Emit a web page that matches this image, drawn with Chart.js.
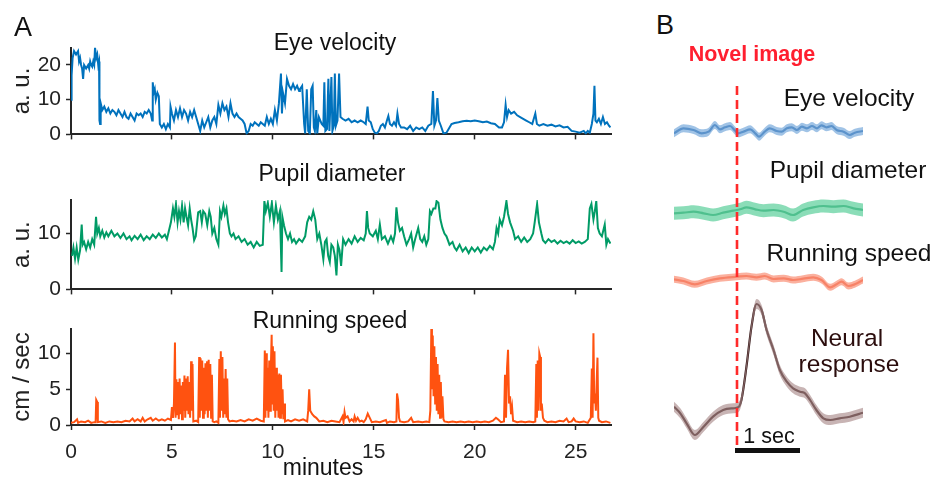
<!DOCTYPE html>
<html>
<head>
<meta charset="utf-8">
<script src="https://cdn.jsdelivr.net/npm/chart.js@4.4.1/dist/chart.umd.min.js"></script>
<style>
body { margin: 0; background: #fff; }
#fig { position: relative; width: 934px; height: 479px; overflow: hidden; font-family: "Liberation Sans", Arial, sans-serif; color: #111; }
canvas { position: absolute; }
.lbl { position: absolute; transform: translate(-50%, -50%); white-space: nowrap; line-height: 1; }
</style>
</head>
<body>
<div id="fig">
  <canvas id="eyeA" width="640" height="122" style="left:0;top:30px"></canvas>
  <canvas id="pupilA" width="640" height="127" style="left:0;top:180px"></canvas>
  <canvas id="runA" width="640" height="169" style="left:0;top:310px"></canvas>

  <canvas id="eyeB" width="294" height="30" style="left:640px;top:115px"></canvas>
  <canvas id="pupilB" width="294" height="35" style="left:640px;top:195px"></canvas>
  <canvas id="runB" width="294" height="35" style="left:640px;top:265px"></canvas>
  <canvas id="neuB" width="294" height="170" style="left:640px;top:290px"></canvas>
  <canvas id="onsetB" width="294" height="375" style="left:640px;top:80px"></canvas>

  <div class="lbl" style="left:23px;top:27px;font-size:27px">A</div>
  <div class="lbl" style="left:665px;top:25px;font-size:27px">B</div>
  <div class="lbl" style="left:335px;top:42px;font-size:23px">Eye velocity</div>
  <div class="lbl" style="left:332px;top:173px;font-size:23px">Pupil diameter</div>
  <div class="lbl" style="left:330px;top:320px;font-size:23px">Running speed</div>
  <div class="lbl" style="left:323px;top:467px;font-size:23px">minutes</div>

  <div class="lbl" style="left:752px;top:55px;font-size:21.5px;font-weight:bold;color:#ff1f2f">Novel image</div>
  <div class="lbl" style="left:849px;top:98px;font-size:24.5px">Eye velocity</div>
  <div class="lbl" style="left:848px;top:170px;font-size:24.5px">Pupil diameter</div>
  <div class="lbl" style="left:849px;top:253px;font-size:24.5px">Running speed</div>
  <div class="lbl" style="left:847px;top:338px;font-size:24.5px;color:#2b0d0d">Neural</div>
  <div class="lbl" style="left:849px;top:364px;font-size:24.5px;color:#2b0d0d">response</div>
  <div class="lbl" style="left:769px;top:437px;font-size:21.5px">1 sec</div>
</div>

<script>
// panel A: [minutes, value]
const eyeTrace = [
  [0,10],[0.03,17],[0.08,22],[0.15,24],[0.25,23],[0.35,24],[0.4,21],[0.45,22],[0.5,20],[0.55,19],[0.6,16],[0.65,20],[0.75,19],[0.85,20],[0.9,19],[0.95,21],[1.0,20],[1.05,19.5],[1.1,21],[1.15,20],[1.19,25],[1.25,22],[1.3,23],[1.35,20],[1.39,21],[1.41,4],[1.44,3],[1.47,9],[1.55,7],[1.65,8],[1.75,6.5],[1.85,7.5],[1.95,6],[2.05,7],[2.15,6.5],[2.25,5.5],[2.35,7],[2.45,6],[2.55,5],[2.65,6.5],[2.75,5],[2.85,4.5],[2.95,6],[3.05,5],[3.15,4],[3.25,6],[3.35,5.5],[3.45,6],[3.55,5],[3.65,6.5],[3.75,6],[3.85,7],[3.95,6],[4.02,4],[4.05,15],[4.1,12],[4.15,13],[4.2,10],[4.28,12],[4.35,11],[4.4,3],[4.5,2],[4.6,3],[4.7,1.5],[4.8,3],[4.9,2],[4.93,8],[5.0,6],[5.1,4],[5.2,7],[5.3,5],[5.4,7.5],[5.5,5],[5.6,7],[5.7,6],[5.8,4],[5.9,6.5],[6.0,5],[6.1,7],[6.2,5],[6.3,3],[6.4,1],[6.5,4],[6.6,2],[6.7,3.5],[6.8,5],[6.9,2],[7.0,4],[7.1,5],[7.2,3],[7.3,8.5],[7.4,6],[7.5,9],[7.6,7],[7.7,8],[7.8,5],[7.9,9],[8.0,6],[8.1,5],[8.2,6],[8.3,5],[8.4,4.5],[8.5,4],[8.6,3],[8.7,0.3],[8.8,1],[8.9,3],[9.0,2.5],[9.1,3.5],[9.2,3],[9.3,2.5],[9.4,3.5],[9.5,3],[9.6,2.5],[9.7,5],[9.8,3],[9.9,4.5],[10.0,3],[10.1,7],[10.2,4],[10.3,9],[10.4,17.5],[10.45,6],[10.5,12],[10.6,9],[10.7,16],[10.8,14],[10.9,13],[11.0,14.5],[11.1,13],[11.2,14],[11.3,12.5],[11.34,13],[11.45,14],[11.55,3],[11.6,0.3],[11.68,13],[11.75,1],[11.83,0.3],[11.9,13],[11.97,14],[12.03,2],[12.08,1],[12.15,7],[12.2,0.3],[12.28,5],[12.35,4],[12.42,3],[12.5,2.5],[12.55,15],[12.6,1],[12.68,1.5],[12.75,16],[12.8,1],[12.9,16.5],[12.95,1],[13.02,2.5],[13.07,17.5],[13.12,2.5],[13.2,4],[13.28,17.5],[13.35,5],[13.45,4.5],[13.6,4],[13.75,4.5],[13.9,3.5],[14.05,4],[14.2,3.5],[14.35,4],[14.5,3.5],[14.6,3],[14.69,8],[14.75,4],[14.85,3.5],[14.95,1.5],[15.05,0.5],[15.15,0.3],[15.25,1],[15.35,2.5],[15.45,3],[15.55,2],[15.65,4],[15.72,5.3],[15.8,3],[15.9,2.5],[16.0,3.5],[16.1,2.5],[16.17,6],[16.25,3],[16.35,2],[16.5,2],[16.65,1.5],[16.8,2.5],[16.95,1],[17.1,2],[17.25,1.5],[17.4,2],[17.55,1],[17.7,2.5],[17.85,3],[17.93,12.5],[18.0,2.5],[18.08,4],[18.15,10.5],[18.22,4],[18.32,2.5],[18.45,0.3],[18.6,0.5],[18.7,1.5],[18.85,3],[19.0,3.3],[19.2,3.5],[19.4,3.8],[19.6,3.9],[19.8,3.8],[20.0,4],[20.2,3.8],[20.4,3.5],[20.6,3.7],[20.8,3.2],[21.0,3],[21.1,2.5],[21.2,2],[21.35,2],[21.45,3.5],[21.53,8.5],[21.6,5],[21.68,7],[21.8,6],[21.95,6.5],[22.1,5.5],[22.25,5],[22.4,4.5],[22.55,4],[22.7,3.5],[22.85,3],[23.0,6],[23.08,3],[23.2,2.5],[23.4,3],[23.6,2.5],[23.8,2.8],[24.0,2.3],[24.2,2.6],[24.4,2],[24.6,2.2],[24.8,1],[25.0,0.8],[25.2,0.5],[25.4,1],[25.5,0.3],[25.6,1],[25.7,0.5],[25.8,3],[25.88,6],[25.93,14],[25.98,4],[26.05,3.5],[26.15,4.5],[26.25,3],[26.35,5],[26.45,3],[26.55,3.5],[26.65,2.5],[26.72,2]
];

const pupilTrace = [
  [0.05,6],[0.12,7.5],[0.2,5.5],[0.28,7.5],[0.36,5.3],[0.45,7],[0.53,11.6],[0.58,8],[0.65,8.5],[0.75,7.2],[0.85,8.5],[0.95,7.5],[1.05,9],[1.15,8],[1.24,13],[1.3,10],[1.38,11],[1.45,9.5],[1.55,10.5],[1.65,9.3],[1.75,10.2],[1.85,9.5],[2.0,10.5],[2.15,9.5],[2.3,10],[2.45,9.2],[2.6,10],[2.75,9],[2.9,9.5],[3.0,8.8],[3.15,9.6],[3.3,9],[3.45,9.8],[3.6,8.8],[3.75,9.5],[3.9,9],[4.05,9.8],[4.2,9.2],[4.35,10],[4.5,9.3],[4.65,9.8],[4.75,9],[4.85,10.5],[4.95,12],[5.05,14.5],[5.12,13],[5.2,15.3],[5.28,12],[5.35,14],[5.42,12.5],[5.5,15],[5.58,12],[5.65,14.5],[5.72,13],[5.8,11.5],[5.88,14.5],[5.95,12.5],[6.02,11],[6.1,8.8],[6.18,9.5],[6.3,13.8],[6.4,14],[6.48,12],[6.55,14],[6.65,13.5],[6.75,11.5],[6.85,14],[6.92,13],[7.0,10],[7.1,11],[7.2,9],[7.3,8],[7.38,14],[7.45,13],[7.55,15],[7.62,13.5],[7.7,14.5],[7.78,12],[7.87,10],[7.95,9.5],[8.05,10],[8.15,9],[8.3,9.5],[8.45,8.5],[8.6,9],[8.75,8],[8.9,8.5],[9.05,7.5],[9.2,8.5],[9.35,7.8],[9.5,8],[9.58,15.8],[9.65,14],[9.75,15.5],[9.85,13],[9.95,15.5],[10.05,12],[10.15,15],[10.25,12.5],[10.35,14],[10.43,3.1],[10.47,13],[10.55,11.5],[10.65,10],[10.75,9],[10.85,10],[10.95,8.5],[11.05,9],[11.15,8.2],[11.3,9],[11.45,8.5],[11.6,9.5],[11.7,12],[11.8,13],[11.9,12.5],[12.0,14],[12.1,12.5],[12.2,9],[12.3,10],[12.4,8],[12.5,5.4],[12.58,8.5],[12.66,9],[12.74,6],[12.82,4.9],[12.9,8],[12.99,7.5],[13.07,6],[13.15,2.5],[13.22,8],[13.3,7],[13.38,4.2],[13.48,9],[13.6,8],[13.75,9],[13.9,8.2],[14.05,9.5],[14.2,8.5],[14.35,9.2],[14.5,8.8],[14.6,10],[14.66,14],[14.72,11],[14.8,10],[14.95,9.5],[15.1,10.5],[15.2,9],[15.3,11.6],[15.4,9],[15.55,9.5],[15.7,8.2],[15.85,9.5],[15.96,8.5],[16.05,10],[16.12,14.7],[16.2,12],[16.29,10.5],[16.4,11],[16.5,9.5],[16.62,8],[16.75,9],[16.85,10],[16.95,7.5],[17.05,9],[17.2,11],[17.3,9],[17.4,8.5],[17.5,9.5],[17.6,8],[17.7,9],[17.78,14],[17.85,13.5],[17.95,14.5],[18.05,14.5],[18.11,15.8],[18.2,15.5],[18.3,12.5],[18.4,11],[18.5,10],[18.6,9.5],[18.75,8],[18.9,8.5],[19.0,7.5],[19.1,7],[19.25,8],[19.4,6.8],[19.55,7.5],[19.7,6.5],[19.85,7.5],[20.0,6.8],[20.15,7.5],[20.3,6.6],[20.45,7.5],[20.6,7],[20.75,7.8],[20.9,7.2],[21.0,8.5],[21.08,11],[21.16,10],[21.24,12.5],[21.35,11.5],[21.45,13],[21.57,15.8],[21.65,13.5],[21.75,12],[21.9,10.5],[22.0,9],[22.15,9.5],[22.3,8.5],[22.45,9.3],[22.6,8.5],[22.75,9],[22.89,10],[22.97,12],[23.09,15.3],[23.18,12],[23.3,10],[23.38,8.8],[23.5,8.3],[23.65,9],[23.8,8.5],[23.95,8.8],[24.1,8.2],[24.25,8.7],[24.4,8.3],[24.55,8.6],[24.7,8.2],[24.85,8.8],[25.0,8.3],[25.15,8.6],[25.3,8.2],[25.45,8.5],[25.6,9],[25.7,14.5],[25.78,15.3],[25.88,12.5],[25.95,14],[26.02,15.8],[26.1,11],[26.19,10],[26.3,9.5],[26.44,11.6],[26.52,8],[26.6,9],[26.72,8.2]
];

const runTrace = [
  [0,0.3],[0.15,0.4],[0.3,0.8],[0.35,0.3],[0.5,0.5],[0.7,0.4],[0.85,0.6],[1.0,0.3],[1.15,0.4],[1.22,0.4],[1.25,3.5],[1.3,3.2],[1.33,0.4],[1.5,0.5],[1.7,0.3],[1.9,0.5],[2.1,0.4],[2.3,0.5],[2.5,0.4],[2.7,0.6],[2.9,0.5],[3.05,0.9],[3.15,0.5],[3.3,0.8],[3.45,0.5],[3.55,1],[3.65,0.5],[3.8,0.8],[3.95,1],[4.05,0.6],[4.2,0.9],[4.35,0.6],[4.5,0.8],[4.65,0.6],[4.8,0.9],[4.95,0.7],[5.0,2.5],[5.05,1],[5.1,3],[5.15,11.5],[5.18,1],[5.22,6.4],[5.26,1.5],[5.3,6],[5.34,0.8],[5.38,6.5],[5.42,1.5],[5.46,5.5],[5.5,0.8],[5.54,6],[5.58,2],[5.62,6.9],[5.66,1],[5.7,6.5],[5.74,2],[5.78,6.8],[5.82,1.5],[5.86,6],[5.9,1],[5.95,8.9],[5.98,2],[6.02,8.5],[6.06,0.5],[6.2,0.6],[6.3,0.4],[6.35,9.5],[6.38,1],[6.42,9.3],[6.46,2],[6.5,9],[6.54,1],[6.58,8],[6.62,1.5],[6.66,8.6],[6.7,2],[6.74,8.9],[6.78,1],[6.82,9.1],[6.86,2],[6.9,8.5],[6.94,1],[6.98,7],[7.02,0.5],[7.1,0.4],[7.2,0.5],[7.3,0.3],[7.35,9.2],[7.38,1],[7.42,10.3],[7.46,2],[7.5,9.5],[7.54,1],[7.58,6.5],[7.62,1.5],[7.66,7.8],[7.7,1],[7.74,6.5],[7.78,0.8],[7.85,0.5],[8.0,0.6],[8.2,0.5],[8.4,0.7],[8.6,0.5],[8.8,0.8],[9.0,0.6],[9.2,0.9],[9.4,0.6],[9.55,0.5],[9.6,10.4],[9.63,1],[9.67,10],[9.7,2],[9.74,8],[9.78,1],[9.82,9],[9.86,2],[9.9,8],[9.94,12.6],[9.97,3],[10.0,11],[10.04,2],[10.08,10.3],[10.12,1],[10.16,8],[10.2,2],[10.24,7],[10.28,1],[10.32,7.2],[10.36,1],[10.4,7],[10.44,1.5],[10.48,5],[10.52,0.8],[10.56,3],[10.6,0.5],[10.75,0.7],[10.9,0.5],[11.1,0.8],[11.3,0.6],[11.5,0.8],[11.7,0.5],[11.75,2],[11.8,5],[11.85,2],[11.95,1.5],[12.05,1.2],[12.15,1],[12.3,0.5],[12.5,0.6],[12.7,0.4],[12.9,0.6],[13.1,0.5],[13.3,0.4],[13.45,1.2],[13.5,0.4],[13.55,1.8],[13.6,1],[13.7,1.2],[13.8,0.5],[13.9,0.8],[14.0,0.5],[14.05,1.2],[14.12,0.6],[14.2,1],[14.3,0.5],[14.4,0.6],[14.5,0.4],[14.6,0.8],[14.7,1.6],[14.8,1],[14.9,0.4],[15.1,0.5],[15.3,0.4],[15.5,0.6],[15.6,0.7],[15.65,0.3],[15.8,0.5],[16.0,0.4],[16.12,0.5],[16.15,4.4],[16.2,3.5],[16.25,1],[16.3,0.5],[16.5,0.4],[16.7,0.5],[16.85,1],[16.95,0.4],[17.2,0.5],[17.4,0.4],[17.6,0.5],[17.75,0.4],[17.8,2],[17.85,13.5],[17.88,5],[17.92,12.5],[17.96,4],[18.0,11],[18.04,3],[18.08,9.5],[18.12,2],[18.16,8.5],[18.2,1.5],[18.24,7],[18.28,1],[18.32,6],[18.36,1],[18.4,4],[18.45,0.8],[18.5,0.5],[18.7,0.4],[18.9,0.5],[19.1,0.4],[19.3,0.5],[19.5,0.4],[19.7,0.5],[19.9,0.4],[20.1,0.5],[20.3,0.4],[20.5,0.5],[20.7,0.4],[20.9,0.6],[21.05,1],[21.15,0.8],[21.3,0.4],[21.45,0.5],[21.5,7],[21.55,1],[21.6,8],[21.65,10.5],[21.7,3],[21.75,4],[21.8,1.5],[21.85,2.5],[21.9,0.6],[22.1,0.4],[22.3,0.5],[22.5,0.4],[22.7,0.5],[22.9,0.4],[23.0,0.5],[23.05,8.5],[23.08,1],[23.12,9],[23.16,2],[23.2,10],[23.24,9.5],[23.28,2],[23.32,3],[23.38,1],[23.45,0.6],[23.6,0.4],[23.8,0.5],[24.0,0.4],[24.2,0.6],[24.4,0.5],[24.55,0.9],[24.65,0.4],[24.8,0.5],[24.9,0.9],[25.0,0.5],[25.2,0.4],[25.4,0.5],[25.6,0.3],[25.75,1],[25.8,7.9],[25.84,1],[25.88,12.8],[25.92,3],[25.96,4.4],[26.0,2],[26.04,6],[26.08,9.4],[26.12,1],[26.16,0.6],[26.3,0.4],[26.5,0.5],[26.72,0.3]
];

// panel B: [seconds from image onset, mean] (a.u.), plus band half width
const eyeB = [[-1.0,6.7],[-0.85,11.7],[-0.69,10],[-0.56,6.7],[-0.45,8.3],[-0.35,15],[-0.27,10.7],[-0.19,12.7],[-0.11,14],[-0.03,9.3],[0.02,6.7],[0.1,8.3],[0.21,10.7],[0.29,6.7],[0.35,3.3],[0.44,8.3],[0.52,11.7],[0.63,9],[0.71,8.3],[0.79,11.7],[0.87,12.7],[0.95,10],[1.03,13.3],[1.11,11.7],[1.19,14],[1.27,11.7],[1.34,14.7],[1.42,12.7],[1.5,14],[1.58,10],[1.69,8.3],[1.79,5],[1.87,7.3],[2.0,9]];
const pupilB = [[-1.0,6.7],[-0.85,7.3],[-0.69,8.3],[-0.53,6.7],[-0.38,5],[-0.22,7.3],[-0.06,9.3],[0.05,10.7],[0.15,12.7],[0.29,10.7],[0.42,9.3],[0.58,10],[0.74,8.3],[0.89,5],[1.05,10],[1.21,12.7],[1.37,14],[1.53,13.3],[1.69,14],[1.85,11.7],[2.0,10]];
const runB = [[-1.0,20.7],[-0.85,19],[-0.67,15.7],[-0.48,19],[-0.27,21.7],[0.0,23.3],[0.15,24],[0.31,22.7],[0.44,24],[0.58,21],[0.74,21.7],[0.89,20],[1.05,21.3],[1.21,22.7],[1.34,20],[1.48,12.7],[1.58,15.7],[1.66,18.3],[1.77,14],[1.87,15.7],[2.0,20]];
const neuralB = [[-1.0,43.3],[-0.9,36.7],[-0.8,26.7],[-0.67,15],[-0.53,23.3],[-0.38,33.3],[-0.22,40],[-0.06,41.7],[0.02,42.7],[0.07,50],[0.15,83.3],[0.23,123.3],[0.31,146],[0.39,140],[0.47,120],[0.58,100],[0.68,80],[0.79,68.3],[0.89,61.7],[1.0,58.3],[1.08,56.7],[1.16,50],[1.26,40],[1.37,31.7],[1.48,30],[1.63,31.7],[1.79,33.3],[2.0,37.3]];
const semEye = 4, semPupil = 6.5, semRun = 3.5, semNeural = 5;
const novelOnset = [0];
const scaleBarSec = [0, 1];

const FONT = "'Liberation Sans', Arial, sans-serif";
const AXIS = '#262626';

function traceChart(id, trace, color, yMax, yStep, yTitle, padTop, xHeight, showXLabels) {
    return new Chart(document.getElementById(id), {
        type: 'line',
        data: {
            datasets: [{
                data: trace.map(p => ({x: p[0], y: p[1]})),
                borderColor: color,
                borderWidth: 2,
                pointRadius: 0,
                tension: 0
            }]
        },
        options: {
            responsive: false,
            animation: false,
            layout: {padding: {top: padTop, right: 29, bottom: 0, left: 0}},
            plugins: {legend: {display: false}, tooltip: {enabled: false}},
            scales: {
                x: {
                    type: 'linear', min: 0, max: 26.75,
                    afterFit: s => { s.height = xHeight; },
                    ticks: {stepSize: 5, includeBounds: false, display: showXLabels, padding: 10, maxRotation: 0,
                        color: '#222', font: {family: FONT, size: 21}},
                    grid: {drawOnChartArea: false, tickLength: 5, tickWidth: 1.5, tickColor: AXIS},
                    border: {color: AXIS, width: 2}
                },
                y: {
                    min: 0, max: yMax,
                    afterFit: s => { s.width = 71; },
                    ticks: {stepSize: yStep, includeBounds: false, padding: 5, color: '#222', font: {family: FONT, size: 21}},
                    title: {display: true, text: yTitle, color: '#222', font: {family: FONT, size: 24}, padding: {top: 8, bottom: 0}},
                    grid: {drawOnChartArea: false, tickLength: 5, tickWidth: 1.5, tickColor: AXIS},
                    border: {color: AXIS, width: 2}
                }
            }
        }
    });
}

traceChart('eyeA', eyeTrace, '#0072bd', 25, 10, 'a. u.', 15, 12, false);
traceChart('pupilA', pupilTrace, '#009b66', 16, 10, 'a. u.', 20, 12, false);
traceChart('runA', runTrace, '#ff5210', 13.4, 5, 'cm / sec', 19, 54, true);

function bandChart(id, trace, sem, lineColor, bandColor, yMin, yMax) {
    const pts = k => trace.map(p => ({x: p[0], y: p[1] + k * sem}));
    return new Chart(document.getElementById(id), {
        type: 'line',
        data: {
            datasets: [
                {data: pts(1), borderWidth: 0, pointRadius: 0, fill: '+1', backgroundColor: bandColor, cubicInterpolationMode: 'monotone'},
                {data: pts(-1), borderWidth: 0, pointRadius: 0, fill: false, cubicInterpolationMode: 'monotone'},
                {data: pts(0), borderColor: lineColor, borderWidth: 2.2, pointRadius: 0, fill: false, cubicInterpolationMode: 'monotone'}
            ]
        },
        options: {
            responsive: false,
            animation: false,
            layout: {padding: {top: 0, right: 71, bottom: 0, left: 34}},
            plugins: {legend: {display: false}, tooltip: {enabled: false}},
            scales: {
                x: {type: 'linear', min: -1, max: 2, display: false},
                y: {min: yMin, max: yMax, display: false}
            }
        }
    });
}

bandChart('eyeB', eyeB, semEye, '#1b5ea6', 'rgba(120,170,220,0.7)', -5, 25);
bandChart('pupilB', pupilB, semPupil, '#138c5a', 'rgba(100,210,160,0.75)', -10, 25);
bandChart('runB', runB, semRun, '#f04a26', 'rgba(250,150,125,0.75)', 0, 35);
bandChart('neuB', neuralB, semNeural, '#2b0d0d', 'rgba(170,140,140,0.65)', -10, 160);

// onset marker + 1 s scale bar
const scaleBar = {
    id: 'scaleBar',
    afterDatasetsDraw(chart) {
        const xs = chart.scales.x, ctx = chart.ctx;
        const x0 = xs.getPixelForValue(scaleBarSec[0]), x1 = xs.getPixelForValue(scaleBarSec[1]);
        ctx.save();
        ctx.fillStyle = '#111';
        ctx.fillRect(x0 - 2, chart.chartArea.bottom + 3, x1 - x0 + 2, 5);
        ctx.restore();
    }
};

new Chart(document.getElementById('onsetB'), {
    type: 'line',
    data: {
        datasets: novelOnset.map(t => ({
            data: [{x: t, y: 0}, {x: t, y: 1}],
            borderColor: '#ff2a2a',
            borderWidth: 2.6,
            borderDash: [9, 5],
            pointRadius: 0
        }))
    },
    options: {
        responsive: false,
        animation: false,
        layout: {padding: {top: 5, right: 71, bottom: 10, left: 34}},
        plugins: {legend: {display: false}, tooltip: {enabled: false}},
        scales: {
            x: {type: 'linear', min: -1, max: 2, display: false},
            y: {min: 0, max: 1, display: false}
        }
    },
    plugins: [scaleBar]
});
</script>
</body>
</html>
